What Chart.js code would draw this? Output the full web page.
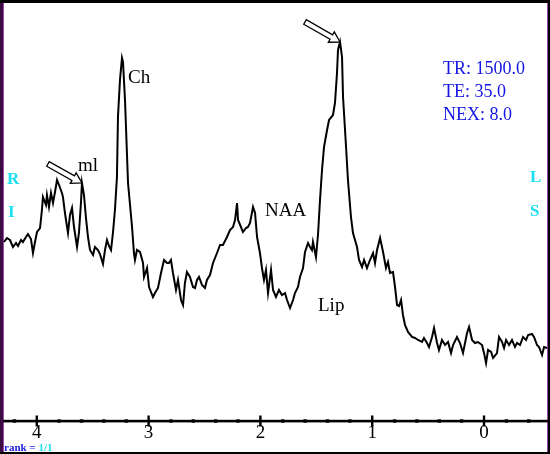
<!DOCTYPE html>
<html>
<head>
<meta charset="utf-8">
<title>MR spectrum</title>
<script src="https://cdn.jsdelivr.net/npm/chart.js@4/dist/chart.umd.min.js"></script>
<style>
  body { margin: 0; background: #000; }
  canvas { display: block; }
</style>
</head>
<body>
<canvas id="chart" width="550" height="454"></canvas>
<script>
// chemical shift (ppm) and signal (a.u.)
const ppm = [4.293, 4.267, 4.240, 4.213, 4.186, 4.168, 4.141, 4.124, 4.097, 4.079, 4.052, 4.034, 4.016, 3.998, 3.971,
  3.954, 3.945, 3.918, 3.909, 3.891, 3.873, 3.855, 3.837, 3.819, 3.801, 3.775, 3.766, 3.748, 3.721, 3.703, 3.685,
  3.667, 3.640, 3.623, 3.605, 3.596, 3.578, 3.560, 3.542, 3.524, 3.497, 3.480, 3.453, 3.435, 3.408, 3.390, 3.372,
  3.354, 3.336, 3.319, 3.301, 3.283, 3.274, 3.256, 3.238, 3.229, 3.211, 3.184, 3.166, 3.148, 3.131, 3.122, 3.104,
  3.077, 3.050, 3.041, 3.014, 2.996, 2.961, 2.943, 2.916, 2.889, 2.862, 2.835, 2.818, 2.800, 2.782, 2.755, 2.737,
  2.710, 2.692, 2.675, 2.657, 2.630, 2.603, 2.585, 2.567, 2.549, 2.522, 2.496, 2.478, 2.451, 2.424, 2.388, 2.361,
  2.335, 2.299, 2.272, 2.245, 2.227, 2.209, 2.200, 2.174, 2.156, 2.129, 2.111, 2.093, 2.066, 2.048, 2.030, 2.004,
  1.986, 1.968, 1.950, 1.932, 1.905, 1.887, 1.861, 1.834, 1.807, 1.780, 1.762, 1.735, 1.708, 1.691, 1.664, 1.646,
  1.619, 1.601, 1.574, 1.556, 1.539, 1.530, 1.503, 1.485, 1.467, 1.449, 1.431, 1.404, 1.386, 1.351, 1.333, 1.315,
  1.306, 1.288, 1.270, 1.261, 1.234, 1.217, 1.190, 1.172, 1.136, 1.118, 1.091, 1.073, 1.047, 1.020, 0.993, 0.975,
  0.957, 0.930, 0.903, 0.877, 0.859, 0.841, 0.814, 0.796, 0.778, 0.760, 0.742, 0.725, 0.707, 0.680, 0.644, 0.617,
  0.590, 0.555, 0.537, 0.510, 0.492, 0.465, 0.447, 0.420, 0.403, 0.376, 0.349, 0.322, 0.295, 0.277, 0.242, 0.215,
  0.188, 0.170, 0.152, 0.134, 0.107, 0.081, 0.054, 0.018, 0.000, -0.018, -0.036, -0.063, -0.081, -0.116, -0.134,
  -0.161, -0.179, -0.197, -0.224, -0.250, -0.277, -0.295, -0.322, -0.349, -0.376, -0.394, -0.429, -0.447, -0.474,
  -0.492, -0.519, -0.537, -0.564];
const signal = [179, 183, 181, 174, 178, 175, 181, 179, 184, 187, 182, 168, 179, 189, 193,
  211, 224, 216, 226, 214, 228, 218, 229, 241, 236, 228, 224, 208, 188, 206, 213,
  194, 174, 188, 218, 238, 226, 203, 184, 171, 166, 174, 171, 167, 157, 171, 181,
  175, 171, 188, 211, 244, 304, 341, 363, 359, 321, 238, 216, 194, 168, 161, 171,
  169, 158, 144, 153, 134, 124, 128, 133, 148, 161, 158, 158, 161, 148, 131, 141,
  121, 116, 138, 149, 144, 134, 133, 141, 144, 136, 133, 141, 146, 158, 168, 176,
  176, 184, 191, 194, 201, 218, 201, 194, 189, 193, 194, 198, 214, 208, 184, 168,
  153, 141, 151, 128, 151, 131, 124, 131, 126, 128, 121, 113, 121, 128, 134, 144,
  153, 169, 178, 174, 171, 179, 164, 186, 221, 251, 274, 291, 301, 306, 318, 348,
  371, 379, 364, 324, 274, 241, 204, 188, 174, 161, 154, 161, 153, 161, 168, 158,
  171, 183, 169, 153, 159, 148, 149, 134, 116, 115, 121, 106, 96, 89, 84, 83,
  81, 79, 83, 78, 74, 84, 93, 78, 71, 81, 76, 79, 68, 76, 84, 78,
  68, 78, 88, 94, 81, 78, 79, 76, 68, 58, 71, 69, 63, 68, 84,
  79, 73, 81, 76, 81, 74, 78, 76, 84, 81, 86, 87, 84, 76,
  74, 66, 74, 73];

const tickLabels = [4, 3, 2, 1, 0];
const minorTicks = [4.2, 3.8, 3.6, 3.4, 3.2, 2.8, 2.6, 2.4, 2.2, 1.8, 1.6, 1.4, 1.2, 0.8, 0.6, 0.4, 0.2, -0.2, -0.4];

const peakLabels = [
  { text: "Ch", x: 128, y: 83 },
  { text: "ml", x: 78, y: 171 },
  { text: "NAA", x: 265, y: 216 },
  { text: "Lip", x: 318, y: 311 }
];
const arrowPeaks = [3.596, 1.288]; // ml and the tall lipid/lactate peak
const scanParams = ["TR: 1500.0", "TE: 35.0", "NEX: 8.0"];

class SpectrumView {
    constructor() {
        this.canvas = document.querySelector("#chart");
        this.drawChart();
    }

    drawArrow(ctx, tx, ty, dx, dy) {
        // hollow arrow ending at (tx, ty), coming from (tx - dx, ty - dy)
        let len = Math.hypot(dx, dy);
        let ux = dx / len, uy = dy / len;
        let nx = -uy, ny = ux;
        let head = 10, shaft = 2.6, wing = 6;
        let bx = tx - ux * head, by = ty - uy * head;
        let sx = tx - dx, sy = ty - dy;
        ctx.beginPath();
        ctx.moveTo(sx + nx * shaft, sy + ny * shaft);
        ctx.lineTo(bx + nx * shaft, by + ny * shaft);
        ctx.lineTo(bx + nx * wing, by + ny * wing);
        ctx.lineTo(tx, ty);
        ctx.lineTo(bx - nx * wing, by - ny * wing);
        ctx.lineTo(bx - nx * shaft, by - ny * shaft);
        ctx.lineTo(sx - nx * shaft, sy - ny * shaft);
        ctx.closePath();
        ctx.fillStyle = "#fff";
        ctx.fill();
        ctx.strokeStyle = "#000";
        ctx.lineWidth = 1.3;
        ctx.stroke();
    }

    drawChart() {
        const view = this;
        const frame = {
            id: "frame",
            beforeDraw(chart) {
                const ctx = chart.ctx;
                ctx.save();
                ctx.fillStyle = "#000";
                ctx.fillRect(0, 0, 550, 454);
                ctx.fillStyle = "#fff";
                ctx.fillRect(3, 3, 545, 449);
                ctx.fillStyle = "#3a0c40";
                ctx.fillRect(0, 3, 3, 449);
                ctx.fillStyle = "#a048b0";
                ctx.fillRect(3, 3, 1, 449);
                ctx.fillRect(547, 3, 1, 449);
                ctx.restore();
            },
            afterDatasetsDraw(chart) {
                const ctx = chart.ctx;
                const xs = chart.scales.x, ys = chart.scales.y;
                const axisY = chart.chartArea.bottom;
                ctx.save();
                // axis line with tick marks
                ctx.fillStyle = "#000";
                ctx.fillRect(3, axisY - 1.2, 545, 2.6);
                tickLabels.forEach(v => {
                    let px = xs.getPixelForValue(v);
                    ctx.fillRect(px - 1.2, axisY - 5.5, 2.4, 11);
                });
                minorTicks.forEach(v => {
                    let px = xs.getPixelForValue(v);
                    ctx.fillRect(px - 1.7, axisY - 1.7, 3.4, 3.4);
                });

                // peak names
                ctx.fillStyle = "#000";
                ctx.font = "19px 'Liberation Serif'";
                ctx.textBaseline = "alphabetic";
                ctx.textAlign = "left";
                peakLabels.forEach(l => ctx.fillText(l.text, l.x, l.y));

                // arrows pointing at the marked peaks
                const tails = [[34, 19], [35, 20]];
                arrowPeaks.forEach((p, i) => {
                    let k = ppm.indexOf(p);
                    let tx = xs.getPixelForValue(ppm[k]);
                    let ty = ys.getPixelForValue(signal[k]);
                    view.drawArrow(ctx, tx, ty, tails[i][0], tails[i][1]);
                });

                // acquisition parameters
                ctx.fillStyle = "#1414e6";
                ctx.font = "18px 'Liberation Serif'";
                scanParams.forEach((t, i) => ctx.fillText(t, 443, 74 + i * 23));

                // orientation letters
                ctx.fillStyle = "#1ee0f0";
                ctx.font = "bold 17px 'Liberation Serif'";
                ctx.fillText("R", 7, 184);
                ctx.fillText("I", 8, 217);
                ctx.fillText("L", 530, 182);
                ctx.fillText("S", 530, 216);

                // rank caption
                ctx.font = "bold 11px 'Liberation Serif'";
                ctx.fillStyle = "#2020e0";
                ctx.fillText("rank = ", 4, 451);
                let w = ctx.measureText("rank = ").width;
                ctx.fillStyle = "#1ee0f0";
                ctx.fillText("1/1", 4 + w, 451);
                ctx.restore();
            }
        };

        new Chart(this.canvas, {
            type: "line",
            data: {
                datasets: [{
                    data: ppm.map((p, i) => ({ x: p, y: signal[i] })),
                    borderColor: "#000",
                    borderWidth: 2,
                    pointRadius: 0,
                    tension: 0,
                    fill: false
                }]
            },
            options: {
                responsive: false,
                animation: false,
                devicePixelRatio: 1,
                layout: { padding: 0 },
                plugins: {
                    legend: { display: false },
                    tooltip: { enabled: false }
                },
                scales: {
                    x: {
                        type: "linear",
                        reverse: true,
                        min: -0.590,
                        max: 4.329,
                        afterBuildTicks: (axis) => {
                            axis.ticks = tickLabels.map(v => ({ value: v }));
                        },
                        afterFit: (axis) => {
                            axis.height = 33;
                        },
                        grid: { display: false, drawTicks: false },
                        border: { display: false },
                        ticks: {
                            color: "#000",
                            padding: 1,
                            autoSkip: false,
                            maxRotation: 0,
                            font: { family: "'Liberation Serif'", size: 19 },
                            callback: (v) => String(v)
                        }
                    },
                    y: {
                        display: false,
                        min: 0,
                        max: 421
                    }
                }
            },
            plugins: [frame]
        });
    }
}

(function () {
    console.log("page loaded");
    const spectrum = new SpectrumView();
})();
</script>
</body>
</html>
